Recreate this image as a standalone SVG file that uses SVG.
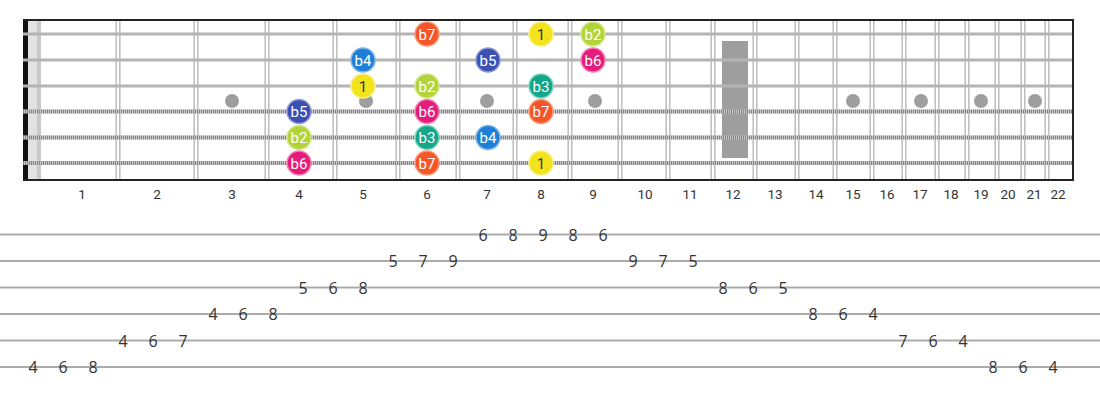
<svg xmlns="http://www.w3.org/2000/svg" width="1100" height="400" viewBox="0 0 1100 400">
<defs>
<style>
.fret{stroke:#bdbdbd;stroke-width:1.5;fill:none}
.plain{stroke:#b4b4b4;stroke-width:3}
.woundb{stroke:#c8c8c8;stroke-width:4}
.woundd{stroke:#858585;stroke-width:4;stroke-dasharray:1 1}
.dot{fill:#9e9e9e}
.fn{font-family:Roboto,"Liberation Sans",sans-serif;font-size:13.5px;fill:#333;text-anchor:middle}
.tl{stroke:#ababab;stroke-width:2}
.tn{font-family:"Open Sans",Roboto,"Liberation Sans",sans-serif;font-size:16px;fill:#333;text-anchor:middle}
.nt{font-family:Roboto,"Liberation Sans",sans-serif;font-size:15px;fill:#fff;text-anchor:middle}
.n1 circle{fill:#f2e31b;stroke:#f8ef86}
.n1 text{fill:#333}
.nb2 circle{fill:#b3d33a;stroke:#d3e788}
.nb3 circle{fill:#14a689;stroke:#7dd6c2}
.nb4 circle{fill:#1e7fd6;stroke:#7fb6ea}
.nb5 circle{fill:#3c50b4;stroke:#8e9bd8}
.nb6 circle{fill:#e61b7b;stroke:#f285b6}
.nb7 circle{fill:#f4562a;stroke:#f99a79}
.note circle{stroke-width:1.5}
</style>
</defs>
<rect width="1100" height="400" fill="#fff"/>
<g id="fretboard">
<rect x="28" y="20" width="9" height="160" fill="#e2e2e2"/>
<rect x="37" y="20" width="4" height="160" fill="#c9c9c9"/>
<rect x="23" y="20" width="5" height="160" fill="#111"/>
<rect x="722" y="41" width="26" height="117" fill="#9e9e9e"/>
<g id="frets">
<path class="fret" d="M116.2 20V180M119.8 20V180M194.2 20V180M197.8 20V180M265.2 20V180M268.8 20V180M333.2 20V180M336.8 20V180M396.2 20V180M399.8 20V180M456.2 20V180M459.8 20V180M513.2 20V180M516.8 20V180M568.2 20V180M571.8 20V180M618.2 20V180M621.8 20V180M666.2 20V180M669.8 20V180M711.2 20V180M714.8 20V180M753.2 20V180M756.8 20V180M795.2 20V180M798.8 20V180M833.2 20V180M836.8 20V180M870.2 20V180M873.8 20V180M902.2 20V180M905.8 20V180M935.2 20V180M938.8 20V180M965.2 20V180M968.8 20V180M995.2 20V180M998.8 20V180M1021.2 20V180M1024.8 20V180M1045.2 20V180M1048.8 20V180"/>
</g>
<g id="inlays">
<circle class="dot" cx="232" cy="101" r="7"/>
<circle class="dot" cx="366" cy="101" r="7"/>
<circle class="dot" cx="487" cy="101" r="7"/>
<circle class="dot" cx="595" cy="101" r="7"/>
<circle class="dot" cx="853" cy="101" r="7"/>
<circle class="dot" cx="921" cy="101" r="7"/>
<circle class="dot" cx="981" cy="101" r="7"/>
<circle class="dot" cx="1035" cy="101" r="7"/>
</g>
<g id="strings">
<line class="plain" x1="23" y1="34" x2="1074" y2="34"/>
<line class="plain" x1="23" y1="60" x2="1074" y2="60"/>
<line class="plain" x1="23" y1="86" x2="1074" y2="86"/>
<line class="woundb" x1="23" y1="111.5" x2="1074" y2="111.5"/>
<line class="woundd" x1="23" y1="111.5" x2="1074" y2="111.5"/>
<line class="woundb" x1="23" y1="137.5" x2="1074" y2="137.5"/>
<line class="woundd" x1="23" y1="137.5" x2="1074" y2="137.5"/>
<line class="woundb" x1="23" y1="163" x2="1074" y2="163"/>
<line class="woundd" x1="23" y1="163" x2="1074" y2="163"/>
</g>
<line x1="23" y1="20" x2="1074" y2="20" stroke="#222" stroke-width="2"/>
<line x1="23" y1="180" x2="1074" y2="180" stroke="#222" stroke-width="2"/>
<line x1="1073" y1="19" x2="1073" y2="181" stroke="#222" stroke-width="2"/>
</g>
<g id="fret-numbers">
<text class="fn" x="82" y="199">1</text>
<text class="fn" x="157" y="199">2</text>
<text class="fn" x="232" y="199">3</text>
<text class="fn" x="299" y="199">4</text>
<text class="fn" x="363" y="199">5</text>
<text class="fn" x="427" y="199">6</text>
<text class="fn" x="487" y="199">7</text>
<text class="fn" x="541" y="199">8</text>
<text class="fn" x="593" y="199">9</text>
<text class="fn" x="645" y="199">10</text>
<text class="fn" x="690" y="199">11</text>
<text class="fn" x="733" y="199">12</text>
<text class="fn" x="775" y="199">13</text>
<text class="fn" x="816" y="199">14</text>
<text class="fn" x="853" y="199">15</text>
<text class="fn" x="887" y="199">16</text>
<text class="fn" x="920" y="199">17</text>
<text class="fn" x="951" y="199">18</text>
<text class="fn" x="981" y="199">19</text>
<text class="fn" x="1008" y="199">20</text>
<text class="fn" x="1034" y="199">21</text>
<text class="fn" x="1058" y="199">22</text>
</g>
<g id="notes">
<g id="n-s1-f6" class="note nb7"><circle cx="427" cy="34" r="12"/><text class="nt" x="427" y="39.5">b7</text></g>
<g id="n-s1-f8" class="note n1"><circle cx="541" cy="34" r="12"/><text class="nt" x="541" y="39.5">1</text></g>
<g id="n-s1-f9" class="note nb2"><circle cx="593" cy="34" r="12"/><text class="nt" x="593" y="39.5">b2</text></g>
<g id="n-s2-f5" class="note nb4"><circle cx="363" cy="60" r="12"/><text class="nt" x="363" y="65.5">b4</text></g>
<g id="n-s2-f7" class="note nb5"><circle cx="488" cy="60" r="12"/><text class="nt" x="488" y="65.5">b5</text></g>
<g id="n-s2-f9" class="note nb6"><circle cx="593" cy="60" r="12"/><text class="nt" x="593" y="65.5">b6</text></g>
<g id="n-s3-f5" class="note n1"><circle cx="363" cy="86" r="12"/><text class="nt" x="363" y="91.5">1</text></g>
<g id="n-s3-f6" class="note nb2"><circle cx="427" cy="86" r="12"/><text class="nt" x="427" y="91.5">b2</text></g>
<g id="n-s3-f8" class="note nb3"><circle cx="541" cy="86" r="12"/><text class="nt" x="541" y="91.5">b3</text></g>
<g id="n-s4-f4" class="note nb5"><circle cx="299" cy="111.5" r="12"/><text class="nt" x="299" y="117">b5</text></g>
<g id="n-s4-f6" class="note nb6"><circle cx="427" cy="111.5" r="12"/><text class="nt" x="427" y="117">b6</text></g>
<g id="n-s4-f8" class="note nb7"><circle cx="541" cy="111.5" r="12"/><text class="nt" x="541" y="117">b7</text></g>
<g id="n-s5-f4" class="note nb2"><circle cx="299" cy="137.5" r="12"/><text class="nt" x="299" y="143">b2</text></g>
<g id="n-s5-f6" class="note nb3"><circle cx="427" cy="137.5" r="12"/><text class="nt" x="427" y="143">b3</text></g>
<g id="n-s5-f7" class="note nb4"><circle cx="488" cy="137.5" r="12"/><text class="nt" x="488" y="143">b4</text></g>
<g id="n-s6-f4" class="note nb6"><circle cx="299" cy="163" r="12"/><text class="nt" x="299" y="168.5">b6</text></g>
<g id="n-s6-f6" class="note nb7"><circle cx="427" cy="163" r="12"/><text class="nt" x="427" y="168.5">b7</text></g>
<g id="n-s6-f8" class="note n1"><circle cx="541" cy="163" r="12"/><text class="nt" x="541" y="168.5">1</text></g>
</g>
<g id="tab-lines">
<line class="tl" x1="0" y1="234.5" x2="1100" y2="234.5"/>
<line class="tl" x1="0" y1="261" x2="1100" y2="261"/>
<line class="tl" x1="0" y1="287.5" x2="1100" y2="287.5"/>
<line class="tl" x1="0" y1="314" x2="1100" y2="314"/>
<line class="tl" x1="0" y1="340.5" x2="1100" y2="340.5"/>
<line class="tl" x1="0" y1="367" x2="1100" y2="367"/>
</g>
<g id="tab-numbers">
<text class="tn" x="33" y="373">4</text><text class="tn" x="63" y="373">6</text><text class="tn" x="93" y="373">8</text>
<text class="tn" x="123" y="346.5">4</text><text class="tn" x="153" y="346.5">6</text><text class="tn" x="183" y="346.5">7</text>
<text class="tn" x="213" y="320">4</text><text class="tn" x="243" y="320">6</text><text class="tn" x="273" y="320">8</text>
<text class="tn" x="303" y="293.5">5</text><text class="tn" x="333" y="293.5">6</text><text class="tn" x="363" y="293.5">8</text>
<text class="tn" x="393" y="267">5</text><text class="tn" x="423" y="267">7</text><text class="tn" x="453" y="267">9</text>
<text class="tn" x="483" y="240.5">6</text><text class="tn" x="513" y="240.5">8</text><text class="tn" x="543" y="240.5">9</text><text class="tn" x="573" y="240.5">8</text><text class="tn" x="603" y="240.5">6</text>
<text class="tn" x="633" y="267">9</text><text class="tn" x="663" y="267">7</text><text class="tn" x="693" y="267">5</text>
<text class="tn" x="723" y="293.5">8</text><text class="tn" x="753" y="293.5">6</text><text class="tn" x="783" y="293.5">5</text>
<text class="tn" x="813" y="320">8</text><text class="tn" x="843" y="320">6</text><text class="tn" x="873" y="320">4</text>
<text class="tn" x="903" y="346.5">7</text><text class="tn" x="933" y="346.5">6</text><text class="tn" x="963" y="346.5">4</text>
<text class="tn" x="993" y="373">8</text><text class="tn" x="1023" y="373">6</text><text class="tn" x="1053" y="373">4</text>
</g>
</svg>
